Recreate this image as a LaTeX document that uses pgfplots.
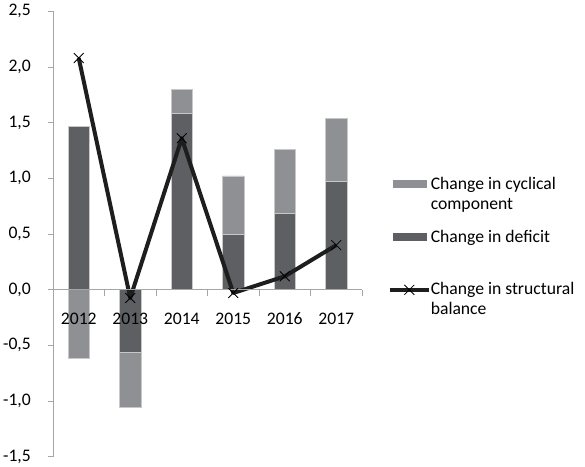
\documentclass[border=0pt]{standalone}
\usepackage{fontspec}
\setmainfont{Carlito}
\usepackage{pgfplots}
\pgfplotsset{compat=1.18}
\definecolor{lightbar}{HTML}{8F9094}
\definecolor{darkbar}{HTML}{5E5F63}
\definecolor{barline}{HTML}{C8C8C8}
\definecolor{axisgray}{HTML}{A6A6A6}
\definecolor{linecol}{HTML}{1E1E1E}
\newcommand{\cfont}{\fontsize{17.7}{20}\selectfont}
\pgfplotsset{
  linelegend/.style={legend image code/.code={\draw[##1, mark repeat=2, mark phase=2] plot coordinates {(-19.5bp,25bp) (0bp,25bp) (19.5bp,25bp)};}},
}
\begin{document}
\begin{tikzpicture}
\useasboundingbox (0,0) rectangle (585bp,467bp);
\begin{axis}[
  at={(53bp,10.3bp)}, anchor=south west,
  scale only axis, width=309bp, height=445.4bp,
  xmin=-0.5, xmax=5.5, ymin=-1.5, ymax=2.5,
  axis x line=middle, axis y line=left,
  axis line style={-, draw=axisgray, line width=0.9bp},
  axis on top,
  xtick={0,1,2,3,4,5},
  xticklabels={2012,2013,2014,2015,2016,2017},
  minor xtick={0.5,1.5,2.5,3.5,4.5,5.5},
  ytick={-1.5,-1,-0.5,0,0.5,1,1.5,2,2.5},
  tick align=outside,
  major tick length=5bp, minor tick length=6bp,
  major x tick style={draw=none},
  minor x tick style={draw=axisgray, line width=0.9bp},
  y tick style={draw=axisgray, line width=0.9bp},
  /pgf/number format/assume math mode=true,
  yticklabel style={/pgf/number format/fixed, /pgf/number format/fixed zerofill,
    /pgf/number format/precision=1, /pgf/number format/use comma,
    anchor=east, inner sep=0pt, xshift=-17bp},
  xticklabel style={anchor=base, inner sep=0pt, yshift=-30bp},
  tick label style={font=\cfont, text=black},
  clip=false,
  legend style={at={(1.0835,0.632)}, anchor=north west, draw=none, fill=none,
    inner sep=0pt, outer sep=0pt, row sep=17.5bp, column sep=0bp,
    font=\cfont, nodes={inner sep=0pt}, cells={anchor=base west, align=left}},
]
\addplot[ybar, bar width=0.414, bar shift=0pt, fill=lightbar, draw=barline, line width=0.5bp,
  legend image code/.code={\fill[lightbar] (-16.5bp,21.5bp) rectangle (16.5bp,28.5bp);}]
  coordinates {(0,-0.614) (1,-1.054) (2,1.80) (3,1.022) (4,1.257) (5,1.535)};
\addlegendentry{\strut Change in cyclical\\\strut component}
\addplot[ybar, bar width=0.414, bar shift=0pt, fill=darkbar, draw=barline, line width=0.5bp,
  legend image code/.code={\fill[darkbar] (-16.5bp,21.5bp) rectangle (16.5bp,28.5bp);}]
  coordinates {(0,1.465) (1,-0.563) (2,1.584) (3,0.497) (4,0.686) (5,0.973)};
\addlegendentry{\strut Change in deficit\\\strut}
\addplot[linecol, line width=4bp, line join=round, mark=x, mark size=7bp,
  mark options={solid, line width=0.8bp, black}, linelegend]
  coordinates {(0,2.08) (1,-0.075) (2,1.36) (3,-0.03) (4,0.12) (5,0.40)};
\addlegendentry{\strut Change in structural\\\strut balance}
\end{axis}
\end{tikzpicture}
\end{document}
